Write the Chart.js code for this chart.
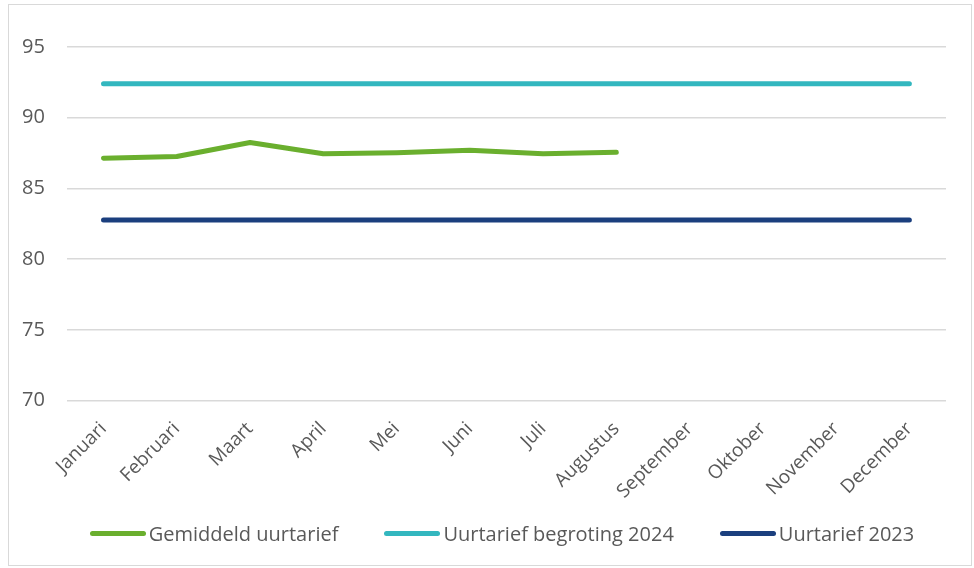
<!DOCTYPE html>
<html>
<head>
<meta charset="utf-8">
<script src="https://cdn.jsdelivr.net/npm/chart.js@4"></script>
<style>
html,body{margin:0;padding:0;background:#fff;}
#frame{position:absolute;left:8px;top:4px;width:964px;height:562px;border:1px solid #d9d9d9;box-sizing:border-box;}
#wrap{position:absolute;left:0;top:0;width:974px;height:568px;}
#legend{position:absolute;left:0;top:518px;width:1004px;height:30px;display:flex;justify-content:center;align-items:center;gap:46px;
  font-family:'Open Sans','Liberation Sans',sans-serif;font-size:20px;color:#595959;}
#legend .item{display:flex;align-items:center;white-space:nowrap;}
#legend .sw{width:56px;height:5px;border-radius:3px;margin-right:3px;}
</style>
</head>
<body>
<div id="frame"></div>
<div id="wrap"><canvas id="c"></canvas></div>
<div id="legend"></div>
<script>
const categories = ['Januari','Februari','Maart','April','Mei','Juni','Juli','Augustus','September','Oktober','November','December'];
const gemiddeld = [87.14, 87.26, 88.25, 87.45, 87.52, 87.7, 87.46, 87.56, null, null, null, null];
const begroting2024 = [92.4, 92.4, 92.4, 92.4, 92.4, 92.4, 92.4, 92.4, 92.4, 92.4, 92.4, 92.4];
const tarief2023 = [82.77, 82.77, 82.77, 82.77, 82.77, 82.77, 82.77, 82.77, 82.77, 82.77, 82.77, 82.77];
const yTicks = [70, 75, 80, 85, 90, 95];

const grey = '#595959';
const font = "'Open Sans', 'Liberation Sans', sans-serif";

const chart = new Chart(document.getElementById('c'), {
  type: 'line',
  data: {
    labels: categories,
    datasets: [
      {label: 'Gemiddeld uurtarief', data: gemiddeld, borderColor: '#6aaf2e', backgroundColor: '#6aaf2e', borderWidth: 5, pointRadius: 0, tension: 0, borderCapStyle: 'round', borderJoinStyle: 'round', spanGaps: false},
      {label: 'Uurtarief begroting 2024', data: begroting2024, borderColor: '#33b7bf', backgroundColor: '#33b7bf', borderWidth: 5, pointRadius: 0, tension: 0, borderCapStyle: 'round'},
      {label: 'Uurtarief 2023', data: tarief2023, borderColor: '#1b3f7e', backgroundColor: '#1b3f7e', borderWidth: 5, pointRadius: 0, tension: 0, borderCapStyle: 'round'}
    ]
  },
  options: {
    responsive: true,
    maintainAspectRatio: false,
    animation: false,
    layout: {padding: {left: 0, right: 28, top: 47, bottom: 56}},
    scales: {
      x: {
        offset: true,
        grid: {display: false},
        border: {display: false},
        ticks: {color: grey, font: {family: font, size: 19}, maxRotation: 45, minRotation: 45, autoSkip: false, padding: 9}
      },
      y: {
        min: 70, max: 95,
        afterBuildTicks: (axis) => { axis.ticks = yTicks.map(v => ({value: v})); },
        grid: {color: '#d9d9d9', lineWidth: 1.5, drawTicks: false},
        border: {display: false},
        ticks: {color: grey, font: {family: font, size: 20}, padding: 22}
      }
    },
    plugins: {
      legend: {display: false},
      tooltip: {enabled: false}
    }
  }
});

// HTML legend built from the chart's datasets
const legendEl = document.getElementById('legend');
chart.data.datasets.forEach(ds => {
  const item = document.createElement('div');
  item.className = 'item';
  const sw = document.createElement('span');
  sw.className = 'sw';
  sw.style.background = ds.borderColor;
  const txt = document.createElement('span');
  txt.textContent = ds.label;
  item.appendChild(sw);
  item.appendChild(txt);
  legendEl.appendChild(item);
});
</script>
</body>
</html>
